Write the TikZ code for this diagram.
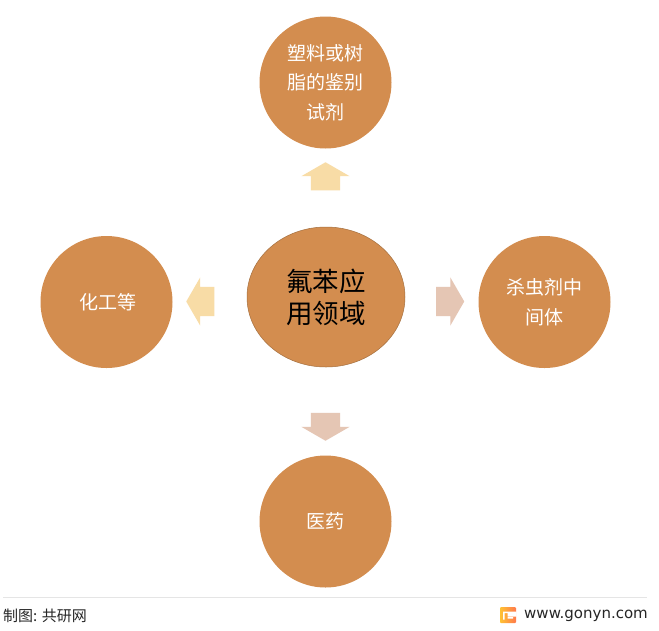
\documentclass[tikz,border=0pt]{standalone}
\usepackage{fontspec}
\usepackage{pgf,tikz}
\usetikzlibrary{arrows,shapes.arrows,shapes.geometric}
\setmainfont{Noto Sans CJK SC}
\newfontfamily\webfont{DejaVu Sans}
\definecolor{tanfill}{HTML}{D38D4F}
\definecolor{tanline}{HTML}{A5703F}
\definecolor{sand}{HTML}{F8DCA6}
\definecolor{blush}{HTML}{E5C6B4}
\tikzset{
  usecircle/.style={circle, fill=tanfill, minimum size=132pt, inner sep=0pt, text=white, align=center, font=\fontsize{19}{29.5}\selectfont},
  blockarrow/.style={single arrow, minimum width=48pt, minimum height=28pt, single arrow head extend=9.5pt, single arrow tip angle=120, inner sep=0pt, outer sep=0pt}
}

\begin{document}
\begin{tikzpicture}[x=1pt,y=-1pt]
\useasboundingbox (0,0) rectangle (659,630);
\fill[white] (0,0) rectangle (659,630);
\node [ellipse, fill=tanfill, draw=tanline, line width=0.5pt, minimum width=158pt, minimum height=140pt, inner sep=0pt, align=center, font=\fontsize{26.5}{32}\selectfont] (center) at (326,297) {氟苯应\\用领域};
\node [usecircle] (plastic) at (325.5,82.5) {塑料或树\\脂的鉴别\\试剂};
\node [usecircle] (chemical) at (106.5,302) {\hspace{3pt}化工等};
\node [usecircle] (pesticide) at (544.5,302) {杀虫剂中\\间体};
\node [usecircle] (medicine) at (325.5,521.5) {医药};
\node [blockarrow, fill=sand, rotate=90] (arrowup) at (325.5,180.5) {\rule{0pt}{29pt}};
\node [blockarrow, fill=sand, rotate=180] (arrowleft) at (204.5,301.5) {\rule{0pt}{29pt}};
\node [blockarrow, fill=blush] (arrowright) at (446,301.5) {\rule{0pt}{29pt}};
\node [blockarrow, fill=blush, rotate=270] (arrowdown) at (325.5,422.5) {\rule{0pt}{29pt}};
% footer
\draw [black!10, line width=0.8pt] (3,597.5) -- (647,597.5);
\node [anchor=west, inner sep=0pt, font=\fontsize{15}{15}\selectfont, text=black!85] (source) at (3,615.5) {制图: 共研网};
\node [anchor=east, inner sep=0pt, font=\webfont\fontsize{15}{15}\selectfont, text=black!85] (website) at (648,615.5) {www.gonyn.com};
\node [rounded corners=1pt, left color=orange!60!yellow!80, right color=red!50!orange!70, minimum width=16pt, minimum height=16pt, inner sep=0pt] (logo) at (508,615) {};
\fill [white] (503,611.5) rectangle (516.5,613) (507.5,617) rectangle (513,618.5) (507.5,613) rectangle (516.5,616.5) (503,613) rectangle (504.5,619.5);
\end{tikzpicture}
\end{document}
